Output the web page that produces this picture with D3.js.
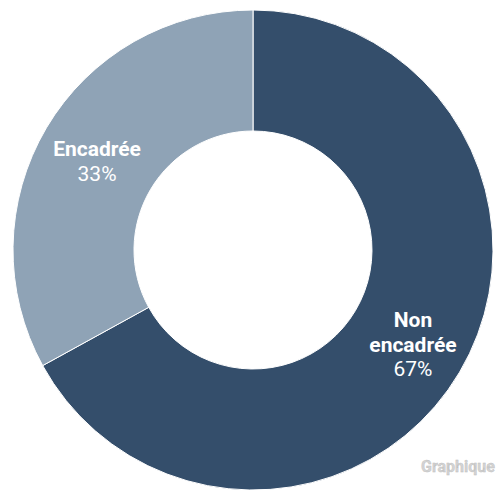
<!DOCTYPE html>
<html><head><meta charset="utf-8">
<script src="https://cdn.jsdelivr.net/npm/d3@7"></script>
<style>html,body{margin:0;padding:0;background:#fff;}svg{display:block;}</style>
</head><body>
<svg id="chart" width="496" height="493"></svg>
<script>
const categories = ["Non encadrée", "Encadrée"];
const labelLines = [["Non", "encadrée"], ["Encadrée"]];
const values = [67, 33];
const percentLabels = ["67%", "33%"];
const colors = ["#344e6b", "#8fa3b6"];

const svg = d3.select("#chart");
const cx = 253, cy = 250, outerR = 240, innerR = 119;
const g = svg.append("g").attr("transform", `translate(${cx},${cy})`);

const data = categories.map((c, i) => ({cat: c, value: values[i], lines: labelLines[i], pct: percentLabels[i], color: colors[i]}));
const pie = d3.pie().value(d => d.value).sort(null);
const arc = d3.arc().innerRadius(innerR).outerRadius(outerR);
const labelArc = d3.arc().innerRadius(180).outerRadius(180);

const arcs = pie(data);
g.selectAll("path").data(arcs).join("path")
  .attr("d", arc).attr("fill", d => d.data.color)
  .attr("stroke", "#ffffff").attr("stroke-width", 1);

const lab = g.selectAll("text.lbl").data(arcs).join("text")
  .attr("class", "lbl")
  .attr("text-anchor", "middle")
  .attr("font-family", "Roboto, sans-serif")
  .attr("font-size", 21)
  .attr("fill", "#ffffff")
  .attr("transform", d => { const [x, y] = labelArc.centroid(d); return `translate(${x + (d.index === 0 ? 5 : -1)},${y})`; });

lab.each(function(d) {
  const t = d3.select(this);
  const n = d.data.lines.length + 1;
  const lh = 24.5;
  const start = -(n - 1) * lh / 2 + 10;
  d.data.lines.forEach((line, i) => {
    t.append("tspan").attr("x", 0).attr("y", start + i * lh).attr("font-weight", "bold").text(line);
  });
  t.append("tspan").attr("x", 0).attr("y", start + (n - 1) * lh).attr("font-weight", "normal").text(d.data.pct);
});

svg.append("text").attr("x", 421).attr("y", 472)
  .attr("font-family", "Roboto, sans-serif").attr("font-size", 16)
  .attr("font-weight", "bold")
  .attr("fill", "#d4d4d4").attr("stroke", "#bdbdbd").attr("stroke-width", 0.4)
  .text("Graphique");
</script>
</body></html>
